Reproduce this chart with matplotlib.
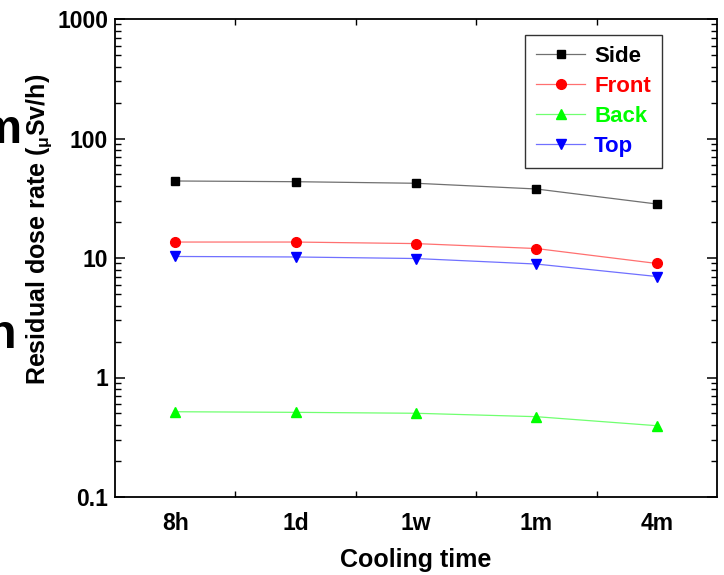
import matplotlib
matplotlib.use("Agg")
import matplotlib.pyplot as plt
from matplotlib.ticker import FixedLocator, LogLocator, NullFormatter

plt.rcParams['font.family'] = ['Liberation Sans', 'DejaVu Sans']
plt.rcParams['font.weight'] = 'bold'
plt.rcParams['mathtext.fontset'] = 'custom'
plt.rcParams['mathtext.rm'] = 'Liberation Sans:bold'
plt.rcParams['mathtext.it'] = 'Liberation Sans:bold'
plt.rcParams['mathtext.bf'] = 'Liberation Sans:bold'

categories = ["8h", "1d", "1w", "1m", "4m"]
side = [44.1, 43.5, 42.2, 37.8, 28.3]
front = [13.6, 13.6, 13.2, 12.0, 9.0]
back = [0.517, 0.511, 0.502, 0.470, 0.395]
top = [10.3, 10.2, 9.9, 8.9, 7.0]
ytick_values = [0.1, 1, 10, 100, 1000]
ytick_labels = ["0.1", "1", "10", "100", "1000"]

fig = plt.figure(figsize=(7.24, 5.75), dpi=100)
ax = fig.add_axes([115/724, 78/575, 602/724, 478/575])

x = list(range(1, len(categories) + 1))
series = [
    ("Side", side, 's', '#000000', '#707070', 5.5),
    ("Front", front, 'o', '#ff0000', '#ff7070', 7),
    ("Back", back, '^', '#00ff00', '#70ff70', 7.5),
    ("Top", top, 'v', '#0000ff', '#7070ff', 7.5),
]
handles = []
for name, vals, mk, mc, lc, ms in series:
    h, = ax.plot(x, vals, color=lc, lw=0.9, marker=mk, markersize=ms,
                 markerfacecolor=mc, markeredgecolor=mc, label=name)
    handles.append(h)

ax.set_yscale('log')
ax.set_ylim(0.1, 1000)
ax.set_xlim(0.5, len(categories) + 0.5)

ax.yaxis.set_major_locator(FixedLocator(ytick_values))
ax.set_yticklabels(ytick_labels)
ax.yaxis.set_minor_locator(LogLocator(base=10, subs=range(2, 10)))
ax.yaxis.set_minor_formatter(NullFormatter())

ax.set_xticks(x)
ax.set_xticklabels(categories)
ax.xaxis.set_minor_locator(FixedLocator([i + 0.5 for i in x[:-1]]))

ax.tick_params(axis='y', which='major', direction='in', length=7, width=1.1,
               left=True, right=True, labelsize=16.5, pad=5)
ax.tick_params(axis='y', which='minor', direction='in', length=4, width=1.0,
               left=True, right=True)
ax.tick_params(axis='x', which='major', length=0, labelsize=16.5, pad=11)
ax.tick_params(axis='x', which='minor', direction='in', length=4, width=1.0,
               bottom=True, top=True)
for lab in ax.get_xticklabels() + ax.get_yticklabels():
    lab.set_fontweight('bold')
for sp in ax.spines.values():
    sp.set_linewidth(1.3)

ax.set_xlabel("Cooling time", fontsize=18, fontweight='bold', labelpad=9)
fig.text(39/724, 1 - 229/575, r"Residual dose rate ($_{\mathrm{\mu}}$Sv/h)",
         rotation=90, ha='center', va='center', fontsize=18, fontweight='bold')

# clipped fragments of neighbouring text at left edge
fig.text(-21/724, 1 - 143/575, "m", fontsize=35, fontweight='bold',
         ha='left', va='baseline')
fig.text(-13/724, 1 - 348/575, "n", fontsize=35, fontweight='bold',
         ha='left', va='baseline')

leg = ax.legend(handles=handles, loc='upper right',
                bbox_to_anchor=(662/724, 1 - 35/575), bbox_transform=fig.transFigure,
                borderaxespad=0, frameon=True, fancybox=False,
                handlelength=2.2, handletextpad=0.4, labelspacing=0.4,
                borderpad=0.5, prop={'weight': 'bold', 'size': 16})
leg.get_frame().set_edgecolor('black')
leg.get_frame().set_linewidth(1.0)
for txt, (_, _, _, mc, _, _) in zip(leg.get_texts(), series):
    txt.set_color(mc)

fig.savefig("out.png", dpi=100)
